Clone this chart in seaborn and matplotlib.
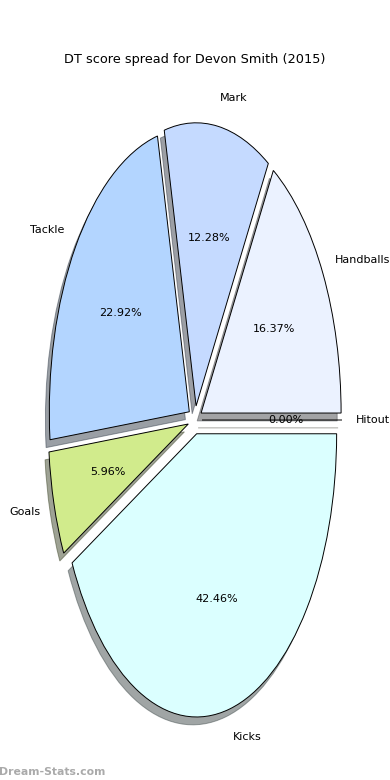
import matplotlib
matplotlib.use("Agg")
import matplotlib.pyplot as plt
import seaborn as sns

labels = ["Handballs", "Mark", "Tackle", "Goals", "Kicks", "Hitout"]
shares = [16.37, 12.28, 22.92, 5.96, 42.46, 0.0]
colours = ["#EBF2FF", "#C5DAFF", "#B3D5FF", "#D1EB8C", "#DBFFFF", "#FFFFE0"]
explode = [0.05, 0.05, 0.05, 0.05, 0.05, 0.05]

sns.set_theme(style="white")
plt.rcParams["font.family"] = ["DejaVu Sans"]
plt.rcParams["text.color"] = "black"

fig = plt.figure(figsize=(3.9, 7.8), dpi=100)
ax = fig.add_axes([20 / 390, 6 / 780, 350 / 390, 708 / 780])

ax.pie(
    shares,
    labels=labels,
    colors=colours,
    explode=explode,
    autopct="%1.2f%%",
    startangle=0,
    shadow=True,
    labeldistance=1.1,
    pctdistance=0.6,
    wedgeprops={"edgecolor": "black", "linewidth": 0.7},
    textprops={"fontsize": 8, "color": "black"},
)
ax.set_aspect("auto")
ax.set_xlim(-1.25, 1.25)
ax.set_ylim(-1.25, 1.25)
ax.set_title("DT score spread for Devon Smith (2015)", fontsize=9.3, pad=-2,
             color="black")

fig.text(-0.002, 0.004, "Dream-Stats.com", fontsize=7.8, color="#aaaaaa",
         fontweight="bold", ha="left", va="bottom")

fig.savefig("out.png", dpi=100)
